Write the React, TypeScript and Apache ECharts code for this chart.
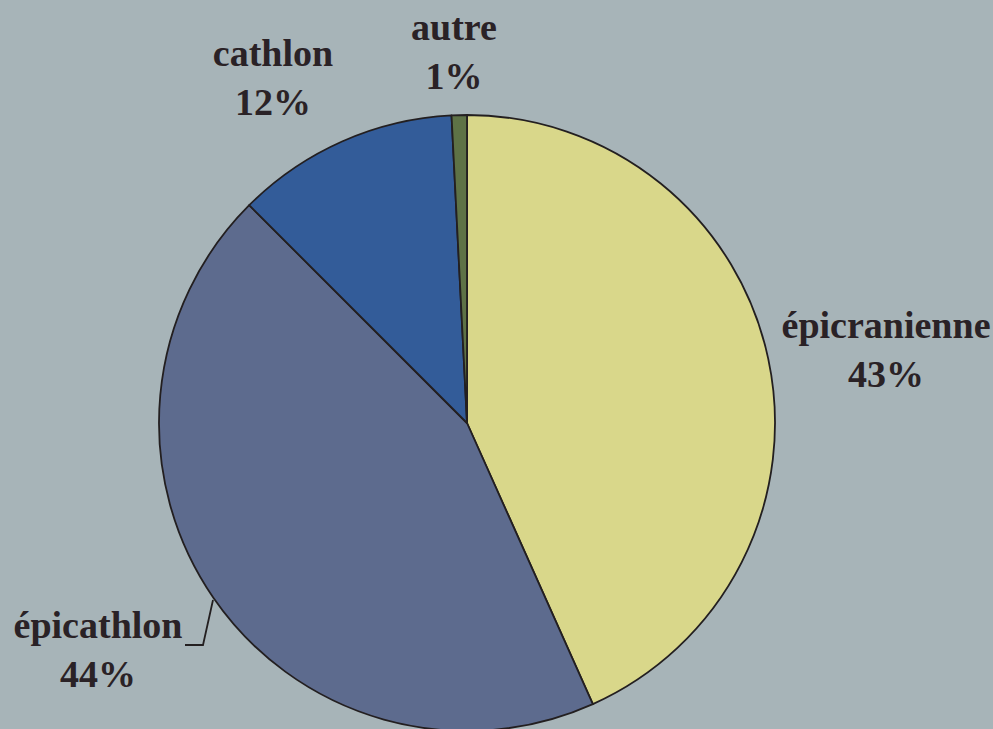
import React, { useEffect, useRef } from "react";
import * as echarts from "echarts";

const categories = ["épicranienne", "épicathlon", "cathlon", "autre"];
const values = [43.3, 44.2, 11.7, 0.8];
const colors = ["#D9D78A", "#5D6B8E", "#335C99", "#5E7246"];

const labelCenters: number[][] = [
  [886, 349],
  [98, 649],
  [273, 77],
  [454, 51],
];

export default function App() {
  const ref = useRef<HTMLDivElement>(null);
  useEffect(() => {
    document.body.style.margin = "0";
    const chart = echarts.init(ref.current!, null, { renderer: "svg" });
    chart.setOption({
      animation: false,
      backgroundColor: "#A7B4B8",
      series: [
        {
          type: "pie",
          center: [467, 423],
          radius: 308,
          startAngle: 90,
          clockwise: true,
          avoidLabelOverlap: false,
          itemStyle: { borderColor: "#231F20", borderWidth: 1.8 },
          label: {
            show: true,
            position: "outside",
            formatter: (p: any) => `${p.name}\n${Math.round(p.percent)}%`,
            fontFamily: "Liberation Serif",
            fontWeight: "bold",
            fontSize: 38,
            lineHeight: 49,
            color: "#2A2226",
            align: "center",
          },
          labelLine: { show: false },
          labelLayout: (params: any) => {
            const c = labelCenters[params.dataIndex];
            const res: any = {
              x: c[0],
              y: c[1],
              align: "center",
              verticalAlign: "middle",
            };
            if (params.dataIndex === 1) {
              res.labelLinePoints = [
                [213, 600],
                [203, 645],
                [185, 645],
              ];
            }
            return res;
          },
          data: categories.map((name, i) => ({
            name,
            value: values[i],
            itemStyle: { color: colors[i] },
            labelLine:
              i === 1
                ? { show: true, lineStyle: { color: "#231F20", width: 1.8 } }
                : { show: false },
          })),
        },
      ],
    });
    return () => chart.dispose();
  }, []);
  return (
    <div
      ref={ref}
      style={{ position: "absolute", left: 0, top: 0, width: 993, height: 729 }}
    />
  );
}
